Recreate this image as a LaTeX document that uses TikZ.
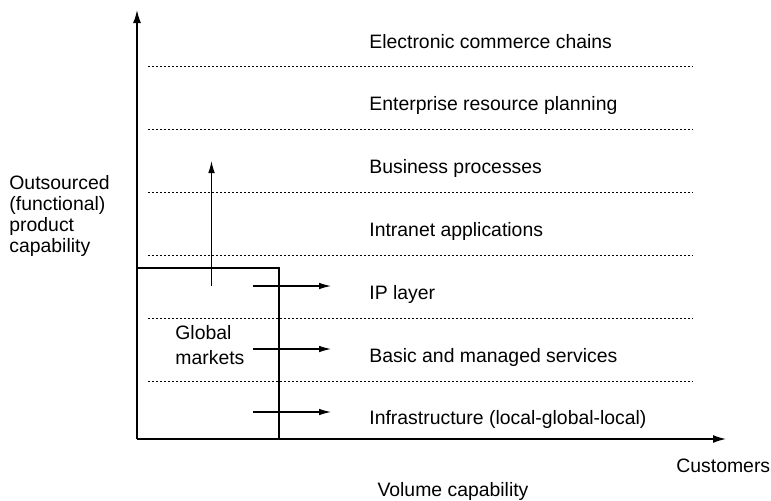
\documentclass[tikz,border=0pt]{standalone}
\usepackage{fontspec}
\setmainfont{Liberation Sans}
\usetikzlibrary{arrows.meta}
\begin{document}
\begin{tikzpicture}[x=0.5pt,y=-0.5pt,
  lab/.style={font=\fontsize{9.7}{10.5}\selectfont, inner sep=0pt, anchor=west},
  axis/.style={line width=0.75pt, -{Latex[length=6.5pt,width=4pt]}},
  arr/.style={line width=0.55pt, -{Latex[length=6pt,width=3.3pt]}},
  layer/.style={line width=0.5pt, dash pattern=on 1pt off 1pt},
  boxline/.style={line width=0.65pt}]
\useasboundingbox (0,0) rectangle (771,500);
% axes
\coordinate (O) at (137,439);
\coordinate (ytip) at (137,10);
\coordinate (xtip) at (726,439);
\draw[axis] (O) -- (ytip);
\draw[axis] (O) -- (xtip);
% dotted layer lines
\foreach \yy in {66,129,192,255,318,381}
  \draw[layer] (148,\yy) -- (693,\yy);
% global markets box
\coordinate (bl) at (137,268);
\coordinate (br) at (279,439);
\draw[boxline] (O) |- (bl) -| (br);
% arrows
\coordinate (u0) at (211.5,286);
\coordinate (u1) at (211.5,161);
\draw[arr] (u0) -- (u1);
\coordinate (a1) at (253,286); \coordinate (b1) at (331,286);
\coordinate (a2) at (253,349); \coordinate (b2) at (331,349);
\coordinate (a3) at (253,412); \coordinate (b3) at (331,412);
\draw[arr] (a1) -- (b1);
\draw[arr] (a2) -- (b2);
\draw[arr] (a3) -- (b3);
% layer labels
\node[lab] (l1) at (369,42) {Electronic commerce chains};
\node[lab] (l2) at (369,105) {Enterprise resource planning};
\node[lab] (l3) at (369,168) {Business processes};
\node[lab] (l4) at (369,231) {Intranet applications};
\node[lab] (l5) at (369,294) {IP layer};
\node[lab] (l6) at (369,357) {Basic and managed services};
\node[lab] (l7) at (369,419) {Infrastructure (local-global-local)};
% other labels
\node[lab, align=left, font=\fontsize{9.7}{12.4}\selectfont] (gm) at (175,345) {Global\\markets};
\node[lab, align=left, font=\fontsize{9.7}{10.6}\selectfont] (yl) at (9,216) {Outsourced\\(functional)\\product\\capability};
\node[lab] (cu) at (676,466) {Customers};
\node[lab, anchor=center] (vc) at (453,491) {Volume capability};
\end{tikzpicture}
\end{document}
